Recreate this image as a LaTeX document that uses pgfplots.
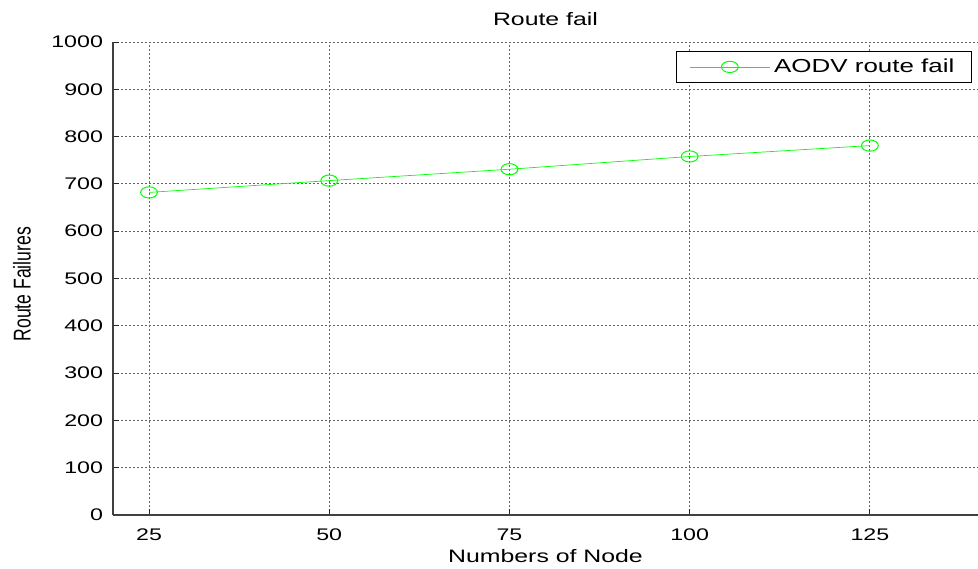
\documentclass[border=0pt]{standalone}
\usepackage{graphicx}
\usepackage{pgfplots}
\pgfplotsset{compat=1.18}
\usepackage{fontspec}
\setmainfont{Liberation Sans}[FakeStretch=1.38]
\newfontfamily\plainfont{Liberation Sans}
\definecolor{mgreen}{RGB}{0,255,0}
\begin{document}
\begin{tikzpicture}
\begin{axis}[
 name=ax, at={(0pt,0pt)}, anchor=south west,
 scale only axis, width=432.5pt, height=236.5pt,
 xmin=20, xmax=140, ymin=0, ymax=1000,
 xtick={25,50,75,100,125}, ytick={0,100,...,1000},
 axis x line*=bottom, axis y line*=left,
 axis line style={draw=black!75, line width=0.6pt, -},
 tick align=inside, major tick length=3pt,
 tick style={black!85, line width=0.5pt},
 grid=major, grid style={dash pattern=on 1pt off 1pt, black!60, line width=0.5pt},
 /pgf/number format/assume math mode=true,
 /pgf/number format/1000 sep={},
 ticklabel style={font=\fontsize{8.4}{9}\selectfont},
 xticklabel style={yshift=-3.5pt},
 yticklabel style={xshift=-1.5pt},
 title={Route fail},
 title style={at={(axis description cs:0.5,1)}, anchor=base, yshift=2pt, font=\fontsize{9}{10}\selectfont},
 xlabel={Numbers of Node},
 xlabel style={at={(axis description cs:0.5,0)}, anchor=base, yshift=-23.5pt, font=\fontsize{9}{10}\selectfont},
 ylabel={\plainfont\scalebox{1}[1.38]{Route Failures}},
 ylabel style={at={(axis description cs:-0.1052,0.488)}, anchor=center, font=\fontsize{8.8}{10}\selectfont},
 legend style={at={(axis description cs:1,1)}, anchor=north east, xshift=-3pt, yshift=-4.5pt,
   draw=black, line width=0.6pt, font=\fontsize{9.4}{10}\selectfont, inner xsep=6.5pt, inner ysep=1.5pt},
 legend image code/.code={\draw[mark repeat=2,mark phase=2,#1] plot coordinates {(0pt,0pt)(20pt,0pt)(40pt,0pt)};},
]
\addplot[color=mgreen, line width=0.35pt, mark=o, mark size=2.8pt, mark options={xscale=1.5, line width=0.5pt}]
 coordinates {(25,682)(50,707)(75,731)(100,758)(125,781)};
\addlegendentry{AODV route fail}
\end{axis}
\pgfresetboundingbox
\useasboundingbox (-56.5pt,-26.5pt) rectangle (432.5pt,257.5pt);
\end{tikzpicture}
\end{document}
